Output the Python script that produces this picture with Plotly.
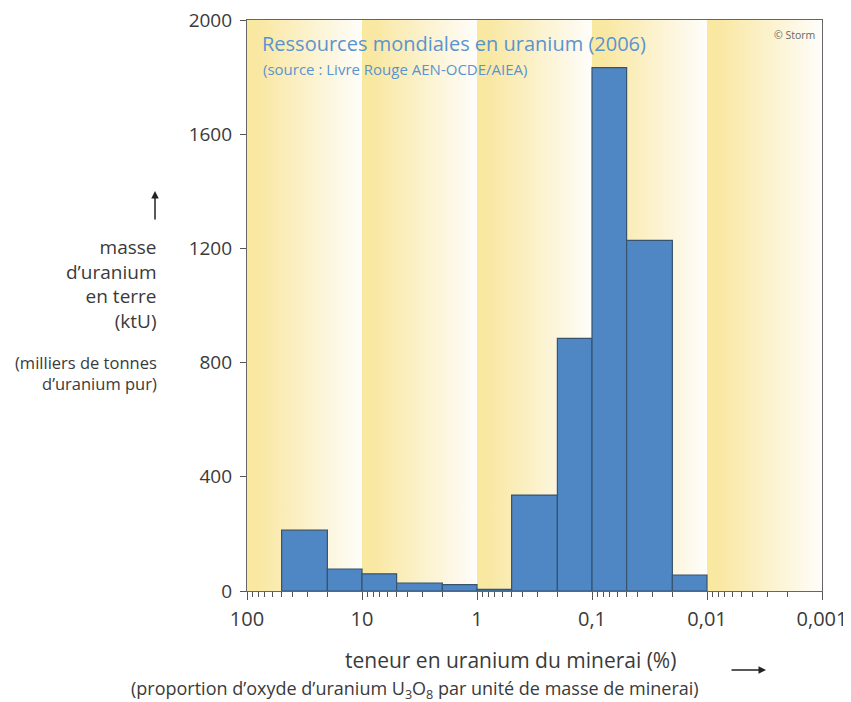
import plotly.graph_objects as go

# ---- data ----
bin_lo = [50, 20, 10, 5, 2, 1, 0.5, 0.2, 0.1, 0.05, 0.02]
bin_hi = [20, 10, 5, 2, 1, 0.5, 0.2, 0.1, 0.05, 0.02, 0.01]
masses = [213, 77, 60, 28, 22, 6, 336, 885, 1833, 1228, 56]

band_left = [100, 10, 1, 0.1, 0.01]
band_right = [10, 1, 0.1, 0.01, 0.001]

x_tickvals = [100, 10, 1, 0.1, 0.01, 0.001]
x_ticktext = ["100", "10", "1", "0,1", "0,01", "0,001"]
y_tickvals = [0, 400, 800, 1200, 1600, 2000]
y_ticktext = ["0", "400", "800", "1200", "1600", "2000"]
minor_mult = [2, 3, 4, 5, 6, 7, 8, 9]

FONT = "Open Sans"
TXT = "#3a3a3a"
BLUE_T = "#5a94cf"

fig = go.Figure()

# yellow gradient decade bands
for lo, hi in zip(band_left, band_right):
    fig.add_trace(go.Scatter(
        x=[lo, hi, hi, lo, lo], y=[0, 0, 2000, 2000, 0],
        mode="lines", line=dict(width=0), fill="toself",
        fillgradient=dict(type="horizontal",
                          colorscale=[[0, "#f9e89e"], [0.12, "#f9e8a4"], [1, "#fefdfa"]]),
        hoverinfo="skip", showlegend=False))

# histogram bars
for lo, hi, v in zip(bin_lo, bin_hi, masses):
    fig.add_trace(go.Scatter(
        x=[lo, lo, hi, hi, lo], y=[0, v, v, 0, 0],
        mode="lines", fill="toself", fillcolor="#4f87c4",
        line=dict(color="#37536f", width=1.2),
        hoverinfo="skip", showlegend=False))

minor_vals = [m * d for d in [0.001, 0.01, 0.1, 1, 10] for m in minor_mult]

fig.update_xaxes(
    type="log", range=[2, -3], automargin=False,
    tickvals=x_tickvals, ticktext=x_ticktext,
    ticks="outside", ticklen=8, tickwidth=1, tickcolor="#555",
    minor=dict(ticks="outside", ticklen=5, tickwidth=1, tickcolor="#555", tickvals=minor_vals),
    showline=True, linecolor="#666", linewidth=1.2, mirror=True,
    showgrid=False, zeroline=False,
    tickfont=dict(family=FONT, size=20, color=TXT),
    ticklabelstandoff=2, ticklabeloverflow="allow",
)
fig.update_yaxes(
    range=[0, 2000], automargin=False,
    tickvals=y_tickvals, ticktext=y_ticktext,
    ticks="outside", ticklen=6, tickwidth=1, tickcolor="#555",
    showline=True, linecolor="#666", linewidth=1.2, mirror=True,
    showgrid=False, zeroline=False,
    tickfont=dict(family=FONT, size=19, color=TXT),
    ticklabelstandoff=4, ticklabeloverflow="allow",
)

# page body adds an 8px offset; work in screen pixels
OFF = 8
W, H = 851 - OFF, 702 - OFF
L, T = 247 - OFF, 20 - OFF
R = W - (822 - OFF)
B = H - (591 - OFF)
PW, PH = W - L - R, H - T - B


def px(x):
    return (x - OFF - L) / PW


def py(y):
    return (H - B - (y - OFF)) / PH


def ann(text, x, y, size, color=TXT, xanchor="center", yanchor="middle", align="center"):
    fig.add_annotation(text=text, x=px(x), y=py(y), xref="paper", yref="paper",
                       showarrow=False, xanchor=xanchor, yanchor=yanchor, align=align,
                       font=dict(family=FONT, size=size, color=color))


ann("Ressources mondiales en uranium (2006)", 260, 44, 20, BLUE_T, xanchor="left")
ann("(source : Livre Rouge AEN-OCDE/AIEA)", 261, 69, 15, BLUE_T, xanchor="left")
ann("© Storm", 817, 35, 10.5, "#666", xanchor="right")

ann("masse<br>d’uranium<br>en terre<br>(ktU)", 159, 284, 19, xanchor="right", align="right")
ann("(milliers de tonnes<br>d’uranium pur)", 159, 373, 16.5, xanchor="right", align="right")

ann("teneur en uranium du minerai (%)", 510, 660, 21)
ann("(proportion d’oxyde d’uranium U<sub>3</sub>O<sub>8</sub> par unité de masse de minerai)",
    415, 689, 18)

# arrows
fig.add_annotation(x=px(155), y=py(191), xref="paper", yref="paper", ax=0, ay=30,
                   text="", showarrow=True, arrowhead=2, arrowsize=1, arrowwidth=1.5,
                   arrowcolor="#222")
fig.add_annotation(x=px(766), y=py(670), xref="paper", yref="paper", ax=-36, ay=0,
                   text="", showarrow=True, arrowhead=2, arrowsize=1, arrowwidth=1.5,
                   arrowcolor="#222")

fig.update_layout(
    width=W, height=H,
    margin=dict(l=L, r=R, t=T, b=B, autoexpand=False),
    paper_bgcolor="white", plot_bgcolor="white",
    showlegend=False,
)

fig.write_html("out.html")
